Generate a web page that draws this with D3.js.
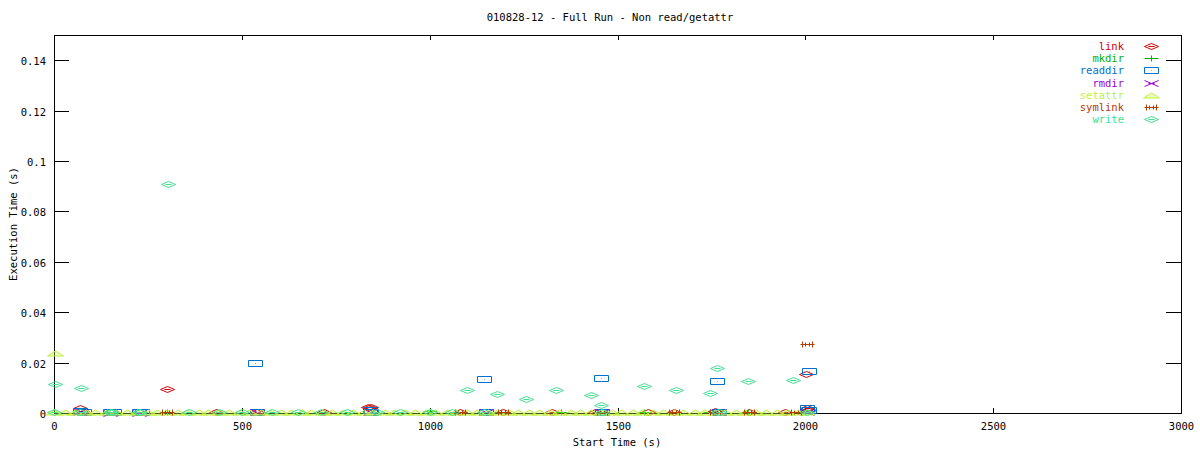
<!DOCTYPE html>
<html><head><meta charset="utf-8">
<script src="https://cdn.jsdelivr.net/npm/d3@7"></script>
<style>
body{margin:0;background:#fff;}
text{font-family:"DejaVu Sans Mono","Liberation Mono",monospace;font-size:10.5px;fill:#000;}
</style></head><body>
<svg id="c" width="1200" height="450"></svg>
<script>
const seriesNames = ["link","mkdir","readdir","rmdir","setattr","symlink","write"];
const seriesColors = ["#d00000","#00b000","#0070d0","#a000d0","#c0f040","#b04000","#40e090"];
const seriesShapes = ["diamond","plus","box","cross","triangle","star","diamond"];

const linkT = [70,75,301,430,540,720,835,845,840,1080,1195,1325,1440,1580,1650,1760,1850,1945,2002,2005,2010];
const linkV = [0.0018,0.0008,0.0095,0.0004,0.0004,0.0005,0.0022,0.0022,0.0014,0.0005,0.0004,0.0004,0.0004,0.0003,0.0005,0.0006,0.0005,0.0004,0.0155,0.0018,0.0010];
const mkdirT = [300,1000,1190,1350,1570,1745,1847,1990];
const mkdirV = [0.0003,0.0006,0.0003,0.0003,0.0004,0.0004,0.0003,0.0004];
const readdirT = [70,80,150,160,225,235,535,540,840,845,1145,1150,1456,1460,1765,1770,2005,2010,2010];
const readdirV = [0.0006,0.0002,0.0005,0.0003,0.0005,0.0003,0.0199,0.0005,0.0013,0.0004,0.0135,0.0004,0.0139,0.0005,0.0127,0.0005,0.0018,0.0010,0.0167];
const rmdirT = [70,150,225,540,840,1150,1460,1770,2005];
const rmdirV = [0.0002,0.0001,0.0001,0.0002,0.0002,0.0002,0.0002,0.0002,0.0003];
const setattrT = [0,2,30,55,85,110,140,165,195,220,250,275,300,330,355,385,410,440,465,495,520,550,575,605,630,660,685,715,740,770,795,825,850,880,905,935,960,990,1015,1045,1070,1100,1125,1155,1180,1210,1235,1265,1290,1320,1345,1375,1400,1430,1455,1485,1510,1540,1565,1595,1620,1650,1675,1705,1730,1760,1785,1815,1840,1870,1895,1925,1950,1980,2005];
const setattrV = [0.0003,0.0239,0.0002,0.0004,0.0003,0.0002,0.0004,0.0003,0.0002,0.0004,0.0003,0.0002,0.0005,0.0003,0.0002,0.0004,0.0003,0.0002,0.0004,0.0003,0.0002,0.0004,0.0003,0.0002,0.0004,0.0003,0.0002,0.0004,0.0003,0.0002,0.0004,0.0003,0.0002,0.0004,0.0003,0.0002,0.0004,0.0003,0.0002,0.0004,0.0003,0.0002,0.0004,0.0003,0.0002,0.0004,0.0003,0.0002,0.0004,0.0003,0.0002,0.0004,0.0003,0.0002,0.0004,0.0003,0.0002,0.0004,0.0003,0.0002,0.0004,0.0003,0.0002,0.0004,0.0003,0.0002,0.0004,0.0003,0.0002,0.0004,0.0003,0.0002,0.0004,0.0003,0.0004];
const symlinkT = [300,1080,1195,1460,1650,1760,1850,1975,2004];
const symlinkV = [0.0003,0.0004,0.0003,0.0004,0.0004,0.0005,0.0004,0.0004,0.0274];
const writeT = [0,3,72,70,150,155,225,230,303,360,440,500,580,650,710,780,860,920,1000,1060,1099,1145,1179,1256,1336,1429,1456,1460,1570,1655,1746,1765,1770,1847,1967,2005];
const writeV = [0.0003,0.0115,0.0099,0.0004,0.0004,0.0003,0.0004,0.0003,0.0910,0.0002,0.0003,0.0002,0.0003,0.0002,0.0003,0.0002,0.0003,0.0002,0.0003,0.0002,0.0092,0.0004,0.0076,0.0056,0.0091,0.0072,0.0030,0.0005,0.0107,0.0091,0.0080,0.0179,0.0005,0.0127,0.0131,0.0004];

const xTicks = [0,500,1000,1500,2000,2500,3000];
const yTicks = [0,0.02,0.04,0.06,0.08,0.1,0.12,0.14];

const seriesT = [linkT,mkdirT,readdirT,rmdirT,setattrT,symlinkT,writeT];
const seriesV = [linkV,mkdirV,readdirV,rmdirV,setattrV,symlinkV,writeV];

const L=54,R=1181,T=35,B=413;
const svg=d3.select("#c");
const x=d3.scaleLinear().domain([0,3000]).range([L,R]);
const y=d3.scaleLinear().domain([0,0.15]).range([B,T]);

svg.append("text").attr("x",610).attr("y",21).attr("text-anchor","middle").text("010828-12 - Full Run - Non read/getattr");
svg.append("text").attr("x",617).attr("y",446).attr("text-anchor","middle").text("Start Time (s)");
svg.append("text").attr("transform","translate(17,224) rotate(-90)").attr("text-anchor","middle").text("Execution Time (s)");

const g=svg.append("g").attr("shape-rendering","crispEdges");
yTicks.forEach(v=>{
  const yy=Math.round(y(v))+0.5;
  g.append("line").attr("x1",L).attr("x2",L+15).attr("y1",yy).attr("y2",yy).attr("stroke","#000");
  g.append("line").attr("x1",R-15).attr("x2",R).attr("y1",yy).attr("y2",yy).attr("stroke","#000");
  svg.append("text").attr("x",L-8).attr("y",yy+4).attr("text-anchor","end").text(v===0?"0":String(v));
});
xTicks.forEach(v=>{
  const xx=Math.round(x(v))+0.5;
  g.append("line").attr("x1",xx).attr("x2",xx).attr("y1",B).attr("y2",B-5).attr("stroke","#000");
  g.append("line").attr("x1",xx).attr("x2",xx).attr("y1",T).attr("y2",T+5).attr("stroke","#000");
  svg.append("text").attr("x",xx).attr("y",B+17).attr("text-anchor","middle").text(String(v));
});
g.append("rect").attr("x",L+0.5).attr("y",T+0.5).attr("width",R-L).attr("height",B-T).attr("fill","none").attr("stroke","#000");

function shapePath(s){
  switch(s){
    case "diamond": return "M-7,0L0,-3L7,0L0,3Z M-3,0H3";
    case "plus": return "M-7,0H7M0,-3V3";
    case "box": return "M-7,-3H7V3H-7Z M0,0h0.5";
    case "cross": return "M-7,-3L7,3M-7,3L7,-3M-3,0H3";
    case "triangle": return "M-8,2.5L0,-2.5L8,2.5Z";
    case "star": return "M-7,0H7M-5,-3V3M5,-3V3M-2,-2V2M2,-2V2";
  }
}
const pg=svg.append("g");
seriesNames.forEach((name,i)=>{
  const pts=seriesT[i].map((t,j)=>({t,v:seriesV[i][j]}));
  pg.append("g").selectAll("path").data(pts).join("path")
    .attr("transform",d=>`translate(${Math.round(x(d.t))+0.5},${Math.round(y(d.v))+0.5})`)
    .attr("d",shapePath(seriesShapes[i]))
    .attr("fill",seriesShapes[i]==="triangle"?"rgba(200,245,80,0.35)":"none")
    .attr("stroke",seriesColors[i]).attr("stroke-width",1);
  const ly=46+i*12.2;
  svg.append("text").attr("x",1124).attr("y",ly+4).attr("text-anchor","end").style("fill",seriesColors[i]).text(name);
  svg.append("path").attr("transform",`translate(${1151.5},${Math.round(ly)+0.5})`).attr("d",shapePath(seriesShapes[i]))
    .attr("fill",seriesShapes[i]==="triangle"?"rgba(200,245,80,0.35)":"none").attr("stroke",seriesColors[i]);
});
</script></body></html>
